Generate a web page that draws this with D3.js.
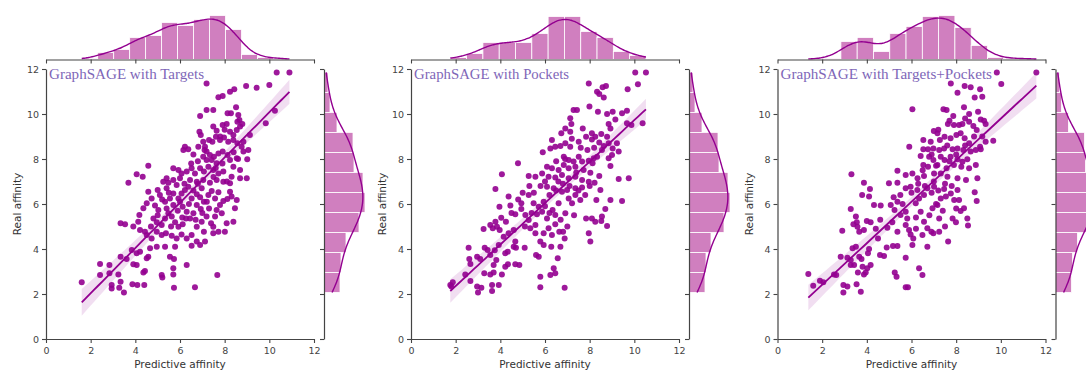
<!DOCTYPE html>
<html>
<head>
<meta charset="utf-8">
<script src="https://cdn.jsdelivr.net/npm/d3@7"></script>
<style>
  body { margin: 0; background: #fff; }
  svg { display: block; }
</style>
</head>
<body>
<svg id="chart" width="1086" height="370"></svg>
<script>
// ---- data ----
const titles = ['GraphSAGE with Targets', 'GraphSAGE with Pockets', 'GraphSAGE with Targets+Pockets'];
const axisTicks = [0, 2, 4, 6, 8, 10, 12];

// scatter points [predictive, real]
const pointsTargets = [
  [10.33,11.85],[10.9,11.85],[7.19,11.36],[8.96,11.24],[9.43,11.17],[10.0,11.29],[8.24,10.99],[8.43,11.1],
  [7.72,10.74],[7.91,10.8],[8.51,10.3],[6.9,9.91],[7.19,10.18],[7.49,10.18],[8.13,10.03],[8.28,10.03],
  [10.25,10.15],[8.61,9.96],[8.66,9.73],[8.57,9.66],[9.84,9.59],[6.87,9.21],[6.93,9.07],[7.49,9.44],
  [7.64,9.26],[7.91,9.51],[8.09,9.56],[8.24,9.21],[8.39,9.07],[8.54,9.29],[8.69,9.44],[8.79,9.56],
  [9.13,9.07],[7.3,8.84],[7.45,8.77],[7.61,8.99],[7.79,8.84],[7.97,8.96],[8.16,8.77],[8.39,8.84],
  [8.57,8.7],[8.76,8.55],[7.04,8.77],[7.12,8.55],[6.22,8.55],[6.37,8.43],[6.15,8.4],[6.82,8.55],
  [8.84,8.33],[9.06,8.4],[8.84,8.77],[7.19,8.33],[7.34,8.18],[7.52,8.1],[7.72,8.25],[7.91,8.33],
  [8.13,8.18],[8.24,7.96],[8.54,8.03],[9.01,7.99],[7.04,8.1],[7.19,7.96],[7.42,7.96],[7.64,7.81],
  [4.58,7.7],[4.06,7.32],[4.33,7.21],[5.7,7.59],[5.93,7.51],[6.07,7.36],[6.3,7.44],[6.52,7.59],
  [6.67,7.36],[5.4,7.14],[5.25,6.99],[5.48,6.95],[5.7,7.07],[6.0,7.14],[6.9,7.59],[7.07,7.44],
  [7.27,7.66],[7.49,7.51],[7.72,7.36],[7.94,7.44],[8.39,7.66],[8.69,7.51],[8.99,7.14],[8.69,7.14],
  [8.31,7.21],[3.69,6.95],[6.45,7.07],[6.75,6.99],[7.04,7.07],[7.34,6.95],[7.64,7.07],[7.94,6.99],
  [8.24,6.92],
  [1.6,2.52],[2.42,3.33],[2.84,3.29],[2.42,2.84],[2.84,2.92],[3.24,2.87],[2.94,2.4],[2.94,2.25],
  [3.28,2.28],[3.49,2.07],[3.34,2.55],[3.87,2.43],[4.4,2.4],[4.09,2.4],[4.36,2.96],[4.43,3.02],
  [4.06,3.29],[3.34,3.66],[3.61,3.56],[3.84,3.96],[4.06,3.81],[3.91,3.32],[4.21,3.88],[3.34,5.14],
  [3.54,5.1],[3.91,5.0],[4.13,5.21],[4.21,4.84],[4.43,4.77],[4.58,3.66],[4.51,3.59],[4.66,4.03],
  [4.96,4.1],[4.73,4.47],[4.51,4.62],[5.18,2.84],[5.21,2.73],[5.7,2.87],[5.7,3.14],[5.55,3.66],
  [5.73,3.56],[5.33,4.1],[5.78,4.1],[5.85,4.47],[6.3,3.29],[5.73,2.28],[6.67,2.3],[7.67,2.84],
  [6.75,4.33],[6.52,4.15],[6.9,4.18],[7.12,4.33],[7.49,4.7],[7.72,4.77],[8.01,4.77],[8.09,5.14],
  [8.39,5.21],[8.46,5.81],[8.54,6.18],[8.31,6.33],[8.24,6.55],[4.18,5.51],[4.36,5.81],[4.51,6.03],
  [4.73,6.25],[4.88,5.93],[5.03,5.73],[5.1,6.4],[5.33,6.1],[5.55,6.25],[5.7,5.96],[5.93,6.25],
  [6.07,6.47],[6.22,6.62],[6.37,6.77],[4.81,5.36],[4.96,5.19],[5.18,5.07],[5.33,5.36],[5.48,5.59],
  [5.63,5.44],[5.78,5.19],[5.93,4.99],[6.12,5.1],[6.27,5.36],[4.96,4.77],[5.18,4.62],[5.37,4.7],
  [5.63,4.59],[6.07,4.65],[6.3,4.47],[6.52,4.62],[6.75,4.99],[6.97,5.21],[7.19,5.44],[7.39,5.14],
  [7.57,5.44],[7.64,5.73],[7.79,5.96],[7.94,6.13],[8.12,6.22],[7.87,5.59],[7.49,4.99],[7.07,4.77],
  [6.75,5.96],[6.93,5.78],[7.07,6.1],[7.27,6.4],[7.42,6.58],[7.57,6.25],[7.72,6.52],[6.6,5.59],
  [6.45,5.36],[6.3,5.66],[6.12,5.88],[6.52,6.25],[6.75,6.43],[6.97,6.7],[4.58,6.55],[5.0,6.62],
  [5.4,6.7],[5.7,6.47],[5.85,6.84],
  [6.2,6.9],[6.6,6.6],[6.9,6.3],[7.2,6.1],[6.4,6.0],[5.9,5.7],[6.1,5.4],[6.7,5.3],[7.0,5.6],
  [7.3,5.8],[5.5,6.5],[5.2,6.2],[5.6,5.0],[6.5,7.8],[6.8,7.9],[7.6,7.6],[7.9,7.8],[8.4,8.3],
  [8.6,8.0],[7.1,8.4],[6.6,8.2],[7.8,9.0],[8.0,9.3],[5.0,5.5],[4.7,5.0],[5.4,5.8],[6.0,6.1],
  [6.8,6.9],[7.5,7.2],[8.1,7.0]
];

const pointsPockets = [
  [10.04,11.85],[10.52,11.85],[7.96,11.36],[8.33,10.99],[8.43,10.89],[8.58,11.19],[8.73,11.24],[8.63,10.73],
  [9.7,11.1],[10.16,11.32],[7.28,10.18],[7.43,10.18],[7.99,10.33],[8.37,10.1],[8.78,10.0],[9.03,10.1],
  [9.45,10.03],[9.67,10.15],[9.15,9.76],[8.85,9.56],[8.93,9.36],[9.67,9.59],[9.87,9.51],[10.37,9.59],
  [7.13,9.81],[7.18,9.56],[6.91,9.36],[7.13,9.21],[7.69,9.36],[8.1,9.14],[8.25,8.99],[8.52,9.11],
  [8.78,8.99],[6.73,9.14],[6.31,8.84],[6.24,8.47],[6.46,8.55],[6.69,8.58],[6.91,8.7],[7.13,8.55],
  [7.51,8.77],[7.84,8.99],[8.1,8.87],[8.43,8.73],[8.63,8.58],[8.85,8.7],[9.03,8.47],[9.22,8.7],
  [9.3,8.33],[9.0,8.18],[8.55,8.4],[8.33,8.1],[6.84,8.1],[7.06,7.96],[7.28,7.89],[7.51,8.1],
  [7.66,7.89],[7.96,7.92],[8.18,8.03],[8.13,7.81],[8.85,8.03],[8.93,7.69],[6.09,7.66],[6.31,7.59],
  [6.61,7.51],[6.84,7.73],[7.06,7.59],[7.36,7.66],[7.73,7.51],[8.03,7.39],[4.79,7.81],[4.07,7.32],
  [5.27,7.24],[5.57,7.21],[5.87,7.36],[6.16,7.21],[6.46,7.18],[6.76,7.29],[7.06,7.14],[7.36,7.21],
  [7.66,7.07],[7.96,6.99],[9.3,7.11],[9.75,7.14],[8.43,7.24],[8.22,6.95],
  [1.76,2.4],[1.87,2.52],[1.81,2.33],[2.58,4.06],[2.61,3.56],[2.66,3.33],[2.96,3.66],[3.1,3.56],
  [2.43,2.87],[2.66,2.58],[2.96,2.33],[3.0,2.07],[3.15,2.28],[3.28,2.92],[3.55,2.87],[3.7,2.96],
  [3.63,2.4],[3.63,2.13],[3.93,2.4],[4.07,2.87],[3.25,4.89],[3.55,5.07],[3.66,4.92],[3.78,5.21],
  [3.85,4.99],[3.97,4.84],[3.3,4.06],[3.43,3.96],[3.55,3.73],[3.75,3.94],[3.93,4.18],[3.82,3.51],
  [3.7,3.29],[4.22,3.21],[4.34,3.32],[4.22,3.81],[4.33,3.88],[3.78,6.67],[3.96,5.88],[4.45,5.93],
  [4.37,6.33],[4.67,5.54],[4.04,5.39],[4.25,5.21],[4.15,4.55],[4.37,4.7],[4.6,4.84],[4.67,4.33],
  [4.6,4.1],[4.7,4.06],[4.85,3.29],[4.67,3.32],[4.94,6.03],[4.94,5.78],[5.12,5.51],[5.27,5.29],
  [5.34,4.92],[5.57,5.07],[5.64,5.54],[5.27,6.4],[5.49,6.03],[5.72,5.88],[5.94,6.1],[5.87,5.66],
  [6.09,5.36],[6.16,4.92],[5.94,4.7],[5.79,4.33],[5.57,4.7],[5.09,4.06],[5.6,3.73],[5.72,3.66],
  [5.94,4.18],[6.28,4.1],[6.31,4.62],[6.46,5.1],[6.64,4.77],[6.46,5.51],[6.34,5.73],[6.61,6.03],
  [5.79,2.77],[5.79,2.3],[6.24,2.84],[6.39,3.14],[6.46,2.92],[6.57,3.59],[6.69,4.1],[6.88,4.47],
  [6.88,2.28],[6.81,4.77],[6.91,5.59],[7.06,6.25],[7.21,6.03],[7.36,6.4],[6.76,6.55],[6.99,6.62],
  [7.58,6.18],[7.84,5.36],[8.1,5.36],[8.25,5.21],[8.52,5.24],[8.55,5.44],[8.7,5.78],[8.78,5.02],
  [8.3,6.18],[8.48,6.62],[8.93,6.18],[9.45,6.13],[7.96,4.7],[8.03,4.33],[6.09,6.77],[6.39,6.7],
  [7.36,6.7],[7.66,6.73],
  [5.5,6.5],[5.8,6.8],[6.2,6.4],[6.5,6.6],[6.8,6.9],[7.1,6.8],[6.6,7.0],[6.0,7.0],[5.3,6.8],
  [5.0,6.5],[4.8,6.2],[4.5,5.6],[5.1,5.0],[5.4,5.6],[6.2,5.6],[6.0,5.9],[6.7,5.3],[7.0,5.0],
  [7.3,5.5],[7.5,6.6],[7.8,6.4],[8.0,6.8],[7.4,7.4],[6.9,8.0],[7.6,8.5],[7.9,8.4],[8.2,8.5],
  [6.5,7.9],[5.9,8.3],[7.2,8.9]
];

const pointsBoth = [
  [9.82,11.85],[11.59,11.85],[10.02,11.33],[7.76,11.36],[8.06,10.95],[8.38,11.24],[8.65,11.19],[9.07,11.1],
  [8.83,10.73],[9.17,10.77],[6.04,10.21],[7.43,10.21],[7.57,10.18],[7.87,9.91],[8.35,10.3],[8.58,10.0],
  [8.98,10.1],[9.1,9.76],[9.25,9.7],[7.63,9.56],[7.9,9.51],[8.13,9.51],[8.28,9.56],[8.58,9.66],
  [8.77,9.47],[8.92,9.29],[9.32,9.56],[7.0,9.24],[7.16,9.14],[6.53,8.84],[6.86,8.77],[7.27,8.84],
  [7.48,8.99],[7.75,8.92],[8.01,9.07],[8.2,9.14],[8.38,8.92],[8.58,8.7],[8.8,9.0],[9.66,8.81],
  [9.17,9.0],[9.07,8.55],[9.32,8.77],[5.9,8.55],[6.53,8.43],[6.74,8.43],[6.98,8.47],[7.24,8.4],
  [7.46,8.47],[7.84,8.43],[8.06,8.47],[8.32,8.4],[8.65,8.33],[8.88,8.4],[9.1,8.43],[6.41,8.13],
  [6.79,8.1],[6.98,7.96],[7.31,8.1],[7.48,7.96],[7.75,8.1],[8.06,7.99],[8.28,7.88],[8.5,7.99],
  [6.53,7.73],[6.74,7.66],[7.16,7.73],[7.57,7.59],[7.9,7.73],[8.23,7.66],[8.58,7.59],[8.88,7.73],
  [5.37,7.48],[5.74,7.29],[6.04,7.36],[6.27,7.14],[6.56,7.24],[7.01,7.36],[7.31,7.36],[7.61,7.21],
  [8.06,7.14],[8.44,7.07],[8.95,7.14],[3.31,7.32],[3.87,6.95],[4.99,6.92],[5.37,6.95],
  [1.38,2.89],[1.6,2.37],[1.9,2.59],[2.05,2.52],[2.53,2.87],[2.63,2.84],[2.9,4.81],[2.83,3.66],
  [3.13,3.61],[3.28,3.51],[3.36,4.03],[3.51,4.1],[3.28,3.29],[3.43,3.29],[2.95,2.4],[2.95,2.07],
  [3.13,2.33],[3.54,2.43],[3.73,2.1],[3.6,2.96],[3.87,2.87],[3.95,2.96],[3.81,3.21],[4.02,3.14],
  [4.17,3.29],[3.76,3.56],[3.66,3.66],[3.28,5.78],[3.51,5.44],[3.55,5.19],[3.58,4.99],[3.66,4.77],
  [3.4,5.1],[3.87,4.84],[4.0,5.24],[4.17,5.19],[4.1,4.0],[4.05,3.81],[3.79,6.4],[4.1,6.33],
  [4.32,5.96],[4.62,5.93],[4.14,6.67],[4.5,4.47],[4.59,3.73],[4.77,3.69],[4.89,4.07],[4.92,4.95],
  [5.14,5.19],[5.07,5.96],[5.24,5.73],[5.37,6.1],[5.51,5.51],[5.37,4.77],[5.17,4.13],[5.37,4.13],
  [5.25,2.96],[5.33,2.77],[5.74,5.66],[5.81,5.36],[5.74,5.07],[5.89,4.84],[5.96,4.65],[6.08,4.47],
  [6.04,4.18],[5.74,3.61],[5.74,2.3],[5.84,2.3],[6.34,3.14],[6.49,2.84],[6.19,6.03],[6.34,6.25],
  [6.56,6.4],[6.41,5.66],[6.56,5.21],[6.71,4.92],[6.49,4.62],[6.71,4.1],[6.89,4.77],[6.98,4.7],
  [7.24,4.77],[7.24,5.36],[6.94,5.81],[7.16,5.96],[7.31,6.25],[7.54,6.33],[7.76,6.47],[7.91,6.18],
  [8.06,6.62],[8.13,6.18],[7.64,4.33],[7.84,5.36],[7.99,5.19],[8.2,5.69],[8.35,5.81],[8.5,5.36],
  [8.53,5.04],[8.83,6.52],[8.92,6.13],[5.96,6.77],[6.26,6.62],[6.71,6.7],[7.01,6.77],[7.46,6.67],
  [5.74,6.7],
  [6.0,6.5],[6.3,6.9],[6.6,6.8],[6.9,6.5],[7.2,6.6],[7.5,6.9],[7.8,6.8],[7.0,7.0],[6.5,7.5],
  [7.1,7.7],[7.7,7.9],[8.0,8.2],[8.4,8.6],[7.6,8.6],[6.9,8.2],[7.2,9.3],[7.7,9.7],[8.4,9.8],
  [5.5,6.4],[5.2,6.3],[5.6,6.0],[6.2,5.4],[6.8,5.5],[7.1,6.0],[7.4,5.7],[4.6,5.3],[4.4,4.9],
  [6.2,4.9],[7.5,5.0],[8.0,5.8]
];

// marginal histogram counts (top: predictive affinity, left to right)
const topCountsTargets = [1, 7, 10, 22, 24, 37, 34, 40, 44, 30, 5, 2, 1];
const topCountsPockets = [2, 6, 17, 17, 17, 26, 43, 43, 28, 22, 8, 4];
const topCountsBoth = [1, 1, 18, 22, 8, 26, 33, 43, 44, 32, 14, 2, 1, 1];
// right: real affinity, bottom to top (same test set in every panel)
const realCounts = [16, 17, 22, 35, 41, 39, 30, 29, 13, 6, 4];

// regression fits [intercept, slope]
const fitTargets = [0.02, 1.006];
const fitPockets = [0.51, 0.922];
const fitBoth = [0.566, 0.923];

const panels = [
  { title: titles[0], pts: pointsTargets, top: topCountsTargets, fit: fitTargets },
  { title: titles[1], pts: pointsPockets, top: topCountsPockets, fit: fitPockets },
  { title: titles[2], pts: pointsBoth, top: topCountsBoth, fit: fitBoth }
];

// ---- layout ----
const lefts = [46, 411, 777.5];
const plotW = 268, plotTop = 69, plotBottom = 339;
const margBase = 59.5, margH = 50, margGap = 10;

const col = '#930090';
const barCol = '#d07fbf';
const axisCol = '#444';

const svg = d3.select('#chart');

function kdeFromBins(counts, lo, hi, steps) {
  const w = (hi - lo) / counts.length;
  const centers = counts.map((c, i) => lo + w * (i + 0.5));
  const n = d3.sum(counts);
  const mean = d3.sum(counts, (c, i) => c * centers[i]) / n;
  const variance = d3.sum(counts, (c, i) => c * (centers[i] - mean) ** 2) / n;
  const bw = Math.sqrt(variance) * Math.pow(n, -0.2);
  const out = [];
  for (let k = 0; k <= steps; k++) {
    const x = lo + (hi - lo) * k / steps;
    let v = 0;
    counts.forEach((c, i) => {
      const z = (x - centers[i]) / bw;
      v += c * Math.exp(-0.5 * z * z) / (bw * Math.sqrt(2 * Math.PI));
    });
    out.push([x, v * w]);
  }
  return out;
}

panels.forEach((p, pi) => {
  const left = lefts[pi];
  const x = d3.scaleLinear().domain([0, 12]).range([left, left + plotW]);
  const y = d3.scaleLinear().domain([0, 12]).range([plotBottom, plotTop]);
  const g = svg.append('g');

  // ---- regression line + band ----
  const xs = p.pts.map(d => d[0]);
  const n = p.pts.length;
  const mx = d3.mean(xs);
  const sxx = d3.sum(xs, v => (v - mx) ** 2);
  const [a, b] = p.fit;
  const s = Math.sqrt(d3.sum(p.pts, d => (d[1] - (a + b * d[0])) ** 2) / (n - 2));
  const [xmin, xmax] = d3.extent(xs);
  const lineXs = d3.range(0, 51).map(k => xmin + (xmax - xmin) * k / 50);
  const band = lineXs.map(v => {
    const h = 1.97 * s * Math.sqrt(1 / n + (v - mx) ** 2 / sxx);
    return [v, a + b * v - h, a + b * v + h];
  });

  // scatter
  g.append('g').selectAll('circle').data(p.pts).enter().append('circle')
    .attr('cx', d => x(d[0]))
    .attr('cy', d => y(d[1]))
    .attr('r', 3)
    .attr('fill', col)
    .attr('fill-opacity', 0.9);

  g.append('path')
    .datum(lineXs)
    .attr('d', d3.line().x(v => x(v)).y(v => y(a + b * v)))
    .attr('fill', 'none')
    .attr('stroke', col)
    .attr('stroke-width', 1.8);

  g.append('path')
    .datum(band)
    .attr('d', d3.area().x(d => x(d[0])).y0(d => y(d[1])).y1(d => y(d[2])))
    .attr('fill', col)
    .attr('fill-opacity', 0.13);

  // ---- main axes ----
  const yAx = g.append('g').attr('transform', `translate(${left},0)`)
    .call(d3.axisLeft(y).tickValues(axisTicks).tickSize(4).tickSizeOuter(0).tickPadding(3));
  const xAx = g.append('g').attr('transform', `translate(0,${plotBottom})`)
    .call(d3.axisBottom(x).tickValues(axisTicks).tickSize(4).tickSizeOuter(0).tickPadding(4));
  [yAx, xAx].forEach(ax => {
    ax.select('.domain').attr('stroke', axisCol).attr('stroke-width', 1.2);
    ax.selectAll('.tick line').attr('stroke', axisCol).attr('stroke-width', 1.1);
    ax.selectAll('.tick text').attr('fill', '#444').attr('font-size', 9.5)
      .attr('font-family', 'DejaVu Sans, sans-serif');
  });

  g.append('text')
    .attr('x', x(6)).attr('y', 368)
    .attr('text-anchor', 'middle')
    .attr('font-family', 'DejaVu Sans, sans-serif')
    .attr('font-size', 10.5).attr('fill', '#333')
    .text('Predictive affinity');
  g.append('text')
    .attr('transform', `translate(${left - 25},${(plotTop + plotBottom) / 2}) rotate(-90)`)
    .attr('text-anchor', 'middle')
    .attr('font-family', 'DejaVu Sans, sans-serif')
    .attr('font-size', 10.5).attr('fill', '#333')
    .text('Real affinity');

  g.append('text')
    .attr('x', left + 3).attr('y', 79)
    .attr('font-family', 'Liberation Serif, serif')
    .attr('font-size', 14)
    .attr('fill', '#7e66b8')
    .attr('textLength', p.title.length * 7.05)
    .attr('lengthAdjust', 'spacingAndGlyphs')
    .text(p.title);

  // ---- top marginal ----
  const hy = d3.scaleLinear().domain([0, margH]).range([margBase, margBase - margH]);
  const topLo = xmin, topHi = xmax;
  const tw = (topHi - topLo) / p.top.length;
  g.append('g').selectAll('rect').data(p.top).enter().append('rect')
    .attr('x', (c, i) => x(topLo + i * tw))
    .attr('width', x(tw) - x(0))
    .attr('y', c => hy(c))
    .attr('height', c => hy(0) - hy(c))
    .attr('fill', barCol)
    .attr('stroke', '#fff')
    .attr('stroke-width', 0.8);
  g.append('path')
    .datum(kdeFromBins(p.top, topLo, topHi, 120))
    .attr('d', d3.line().x(d => x(d[0])).y(d => hy(d[1])).curve(d3.curveBasis))
    .attr('fill', 'none').attr('stroke', col).attr('stroke-width', 1.4);
  const tAx = g.append('g').attr('transform', `translate(0,${margBase})`)
    .call(d3.axisBottom(x).tickValues(axisTicks).tickSize(4).tickSizeOuter(0).tickFormat(''));
  tAx.select('.domain').attr('stroke', axisCol).attr('stroke-width', 1.2);
  tAx.selectAll('.tick line').attr('stroke', axisCol).attr('stroke-width', 1.1);

  // ---- right marginal ----
  const rx0 = left + plotW + margGap;
  const hx = d3.scaleLinear().domain([0, margH]).range([rx0, rx0 + margH]);
  const ys = p.pts.map(d => d[1]);
  const [rLo, rHi] = d3.extent(ys);
  const rw = (rHi - rLo) / realCounts.length;
  g.append('g').selectAll('rect').data(realCounts).enter().append('rect')
    .attr('x', hx(0))
    .attr('width', c => hx(c) - hx(0))
    .attr('y', (c, i) => y(rLo + (i + 1) * rw))
    .attr('height', y(0) - y(rw))
    .attr('fill', barCol)
    .attr('stroke', '#fff')
    .attr('stroke-width', 0.8);
  g.append('path')
    .datum(kdeFromBins(realCounts, rLo, rHi, 120))
    .attr('d', d3.line().x(d => hx(d[1])).y(d => y(d[0])).curve(d3.curveBasis))
    .attr('fill', 'none').attr('stroke', col).attr('stroke-width', 1.4);
  const rAx = g.append('g').attr('transform', `translate(${rx0},0)`)
    .call(d3.axisLeft(y).tickValues(axisTicks).tickSize(4).tickSizeOuter(0).tickFormat(''));
  rAx.select('.domain').attr('stroke', axisCol).attr('stroke-width', 1.2);
  rAx.selectAll('.tick line').attr('stroke', axisCol).attr('stroke-width', 1.1);
});
</script>
</body>
</html>
